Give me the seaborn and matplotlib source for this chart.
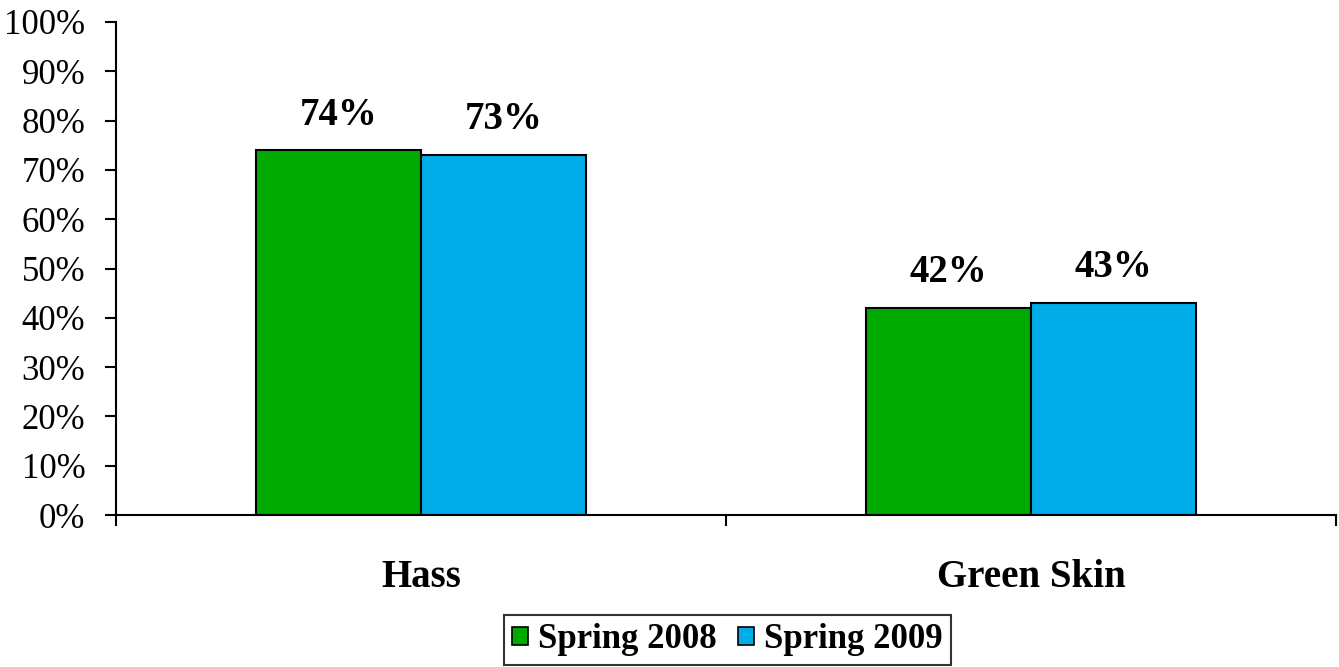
import pandas as pd
import matplotlib
matplotlib.use('Agg')
import matplotlib.pyplot as plt
import seaborn as sns

# Data
varieties = ['Hass', 'Green Skin']
seasons = ['Spring 2008', 'Spring 2009']
spring_2008 = [74, 42]
spring_2009 = [73, 43]
y_ticks = list(range(0, 101, 10))

df = pd.DataFrame({
    'Variety': varieties * 2,
    'Season': [seasons[0]] * 2 + [seasons[1]] * 2,
    'Pct': spring_2008 + spring_2009,
})

sns.set_style('white')
plt.rcParams['font.family'] = ['Liberation Serif', 'DejaVu Serif']
plt.rcParams['text.color'] = 'black'
plt.rcParams['xtick.color'] = 'black'
plt.rcParams['ytick.color'] = 'black'

fig = plt.figure(figsize=(13.39, 6.67), dpi=100)
ax = fig.add_axes([116 / 1339, 1 - 515 / 667, (1336 - 116) / 1339, (515 - 22) / 667])

palette = {'Spring 2008': '#00AA00', 'Spring 2009': '#00ADE8'}
sns.barplot(data=df, x='Variety', y='Pct', hue='Season', order=varieties,
            hue_order=seasons, palette=palette, width=0.54, saturation=1,
            edgecolor='black', linewidth=1.5, ax=ax, legend=True)

for cont in ax.containers:
    ax.bar_label(cont, fmt='%d%%', padding=12, fontsize=28, fontweight='bold', color='black')

ax.set_ylim(0, 100)
ax.set_xlim(-0.5, 1.5)
ax.set_yticks(y_ticks)
ax.set_yticklabels([f'{t}%' for t in y_ticks], fontsize=25)
ax.tick_params(axis='y', direction='out', length=8, width=1.5, left=True, pad=14)

# category boundaries as ticks, names as minor labels
ax.set_xticks([-0.5, 0.5, 1.5])
ax.set_xticklabels(['', '', ''])
ax.tick_params(axis='x', which='major', direction='out', length=8, width=1.5, bottom=True)
ax.set_xticks([0, 1], minor=True)
ax.set_xticklabels(varieties, minor=True, fontsize=28, fontweight='bold')
ax.tick_params(axis='x', which='minor', length=0, pad=32)

ax.set_xlabel('')
ax.set_ylabel('')
sns.despine(ax=ax)
for side in ['left', 'bottom']:
    ax.spines[side].set_linewidth(1.5)
    ax.spines[side].set_color('black')

handles, labels = ax.get_legend_handles_labels()
ax.get_legend().remove()
leg = fig.legend(handles, labels, loc='center', ncol=2,
                 bbox_to_anchor=(727.5 / 1339, 1 - 640 / 667),
                 frameon=True, fancybox=False, edgecolor='black',
                 handlelength=0.45, handleheight=0.45, handletextpad=0.3,
                 columnspacing=0.6, borderpad=0.25, borderaxespad=0,
                 prop={'size': 25, 'weight': 'bold'})
leg.get_frame().set_linewidth(1.5)
for h in leg.legend_handles:
    h.set_linewidth(1.2)

fig.savefig('out.png', dpi=100)
